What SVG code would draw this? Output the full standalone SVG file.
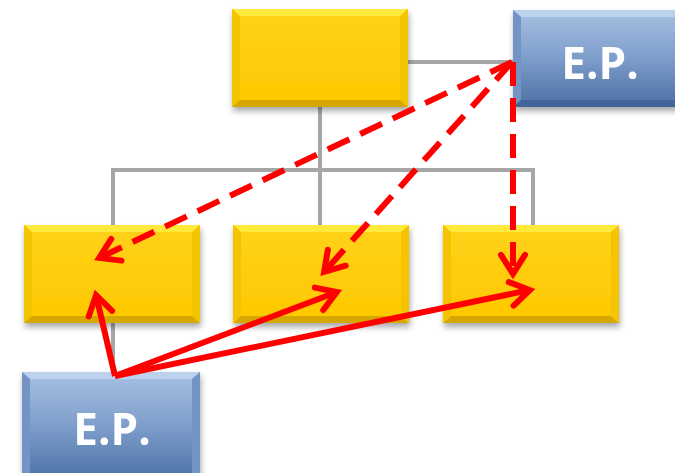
<svg xmlns="http://www.w3.org/2000/svg" width="675" height="473" viewBox="0 0 675 473">
  <defs>
    <linearGradient id="gold" x1="0" y1="0" x2="0" y2="1">
      <stop offset="0" stop-color="#FFD21A"/>
      <stop offset="1" stop-color="#FFC800"/>
    </linearGradient>
    <linearGradient id="blue" x1="0" y1="0" x2="0" y2="1">
      <stop offset="0" stop-color="#A6C1E3"/>
      <stop offset="0.5" stop-color="#7D9DCA"/>
      <stop offset="1" stop-color="#4A70A4"/>
    </linearGradient>
    <filter id="shadow" x="-10%" y="-10%" width="120%" height="130%">
      <feGaussianBlur in="SourceAlpha" stdDeviation="3"/>
      <feOffset dx="1" dy="4" result="b"/>
      <feComponentTransfer><feFuncA type="linear" slope="0.35"/></feComponentTransfer>
      <feMerge><feMergeNode/><feMergeNode in="SourceGraphic"/></feMerge>
    </filter>
    <marker id="head" markerWidth="8" markerHeight="8" refX="6.2" refY="4" orient="auto" markerUnits="userSpaceOnUse" viewBox="0 0 8 8" style="overflow:visible">
      <polyline points="-13,-8 6,4 -13,16" fill="none" stroke="#FF0000" stroke-width="6" stroke-linecap="round" stroke-linejoin="miter"/>
    </marker>
    <style>
      .conn { stroke: #A6A6A6; stroke-width: 4; fill: none; }
      .red { stroke: #FF0000; stroke-width: 6; fill: none; }
      .dash { stroke-dasharray: 24 12; }
      .label { font-family: "Open Sans", "Liberation Sans", sans-serif; font-weight: bold; font-size: 44px; fill: #FFFFFF; text-anchor: middle; }
      .topY { fill: #FFEA3A; }
      .botY { fill: #D4A800; }
      .sideY { fill: #F5C400; }
      .topB { fill: #BCD2EC; }
      .botB { fill: #42659A; }
      .sideB { fill: #7394C4; }
    </style>
  </defs>

  <!-- gray org-chart lines -->
  <g id="connectors">
    <line class="conn" x1="408" y1="62" x2="514" y2="62"/>
    <line class="conn" x1="320" y1="107" x2="320" y2="170"/>
    <polyline class="conn" points="113,226 113,170 533,170 533,226"/>
    <line class="conn" x1="320" y1="170" x2="320" y2="226"/>
    <line class="conn" x1="113" y1="323" x2="113" y2="373"/>
  </g>

  <!-- boxes -->
  <g id="top" filter="url(#shadow)">
    <rect x="232" y="9" width="176" height="98" fill="url(#gold)"/>
    <polygon class="topY" points="232,9 408,9 400,16 240,16"/>
    <polygon class="botY" points="232,107 408,107 400,100 240,100"/>
    <polygon class="sideY" points="232,9 240,16 240,100 232,107"/>
    <polygon class="sideY" points="408,9 400,16 400,100 408,107"/>
  </g>
  <g id="ep-top" filter="url(#shadow)">
    <rect x="513" y="10" width="170" height="97" fill="url(#blue)"/>
    <polygon class="topB" points="513,10 683,10 675,17 521,17"/>
    <polygon class="botB" points="513,107 683,107 675,100 521,100"/>
    <polygon class="sideB" points="513,10 521,17 521,100 513,107"/>
    <text class="label" x="600" y="79">E.P.</text>
  </g>
  <g id="left" filter="url(#shadow)">
    <rect x="24" y="225" width="176" height="98" fill="url(#gold)"/>
    <polygon class="topY" points="24,225 200,225 192,232 32,232"/>
    <polygon class="botY" points="24,323 200,323 192,316 32,316"/>
    <polygon class="sideY" points="24,225 32,232 32,316 24,323"/>
    <polygon class="sideY" points="200,225 192,232 192,316 200,323"/>
  </g>
  <g id="middle" filter="url(#shadow)">
    <rect x="233" y="225" width="176" height="98" fill="url(#gold)"/>
    <polygon class="topY" points="233,225 409,225 401,232 241,232"/>
    <polygon class="botY" points="233,323 409,323 401,316 241,316"/>
    <polygon class="sideY" points="233,225 241,232 241,316 233,323"/>
    <polygon class="sideY" points="409,225 401,232 401,316 409,323"/>
  </g>
  <g id="right" filter="url(#shadow)">
    <rect x="443" y="225" width="176" height="98" fill="url(#gold)"/>
    <polygon class="topY" points="443,225 619,225 611,232 451,232"/>
    <polygon class="botY" points="443,323 619,323 611,316 451,316"/>
    <polygon class="sideY" points="443,225 451,232 451,316 443,323"/>
    <polygon class="sideY" points="619,225 611,232 611,316 619,323"/>
  </g>
  <g id="ep-bottom" filter="url(#shadow)">
    <rect x="22" y="372" width="178" height="110" fill="url(#blue)"/>
    <polygon class="topB" points="22,372 200,372 192,379 30,379"/>
    <polygon class="sideB" points="22,372 30,379 30,482 22,482"/>
    <polygon class="sideB" points="200,372 192,379 192,482 200,482"/>
    <text class="label" x="112" y="445">E.P.</text>
  </g>

  <!-- red arrows -->
  <g id="arrows">
    <line class="red dash" x1="512" y1="62" x2="99" y2="258" marker-end="url(#head)"/>
    <line class="red dash" x1="512" y1="62" x2="324" y2="272" marker-end="url(#head)"/>
    <line class="red dash" x1="513" y1="62" x2="513" y2="274" marker-end="url(#head)"/>
    <line class="red" x1="115" y1="376" x2="96" y2="295" marker-end="url(#head)"/>
    <line class="red" x1="115" y1="376" x2="337" y2="292" marker-end="url(#head)"/>
    <line class="red" x1="115" y1="376" x2="530" y2="290" marker-end="url(#head)"/>
  </g>
</svg>
